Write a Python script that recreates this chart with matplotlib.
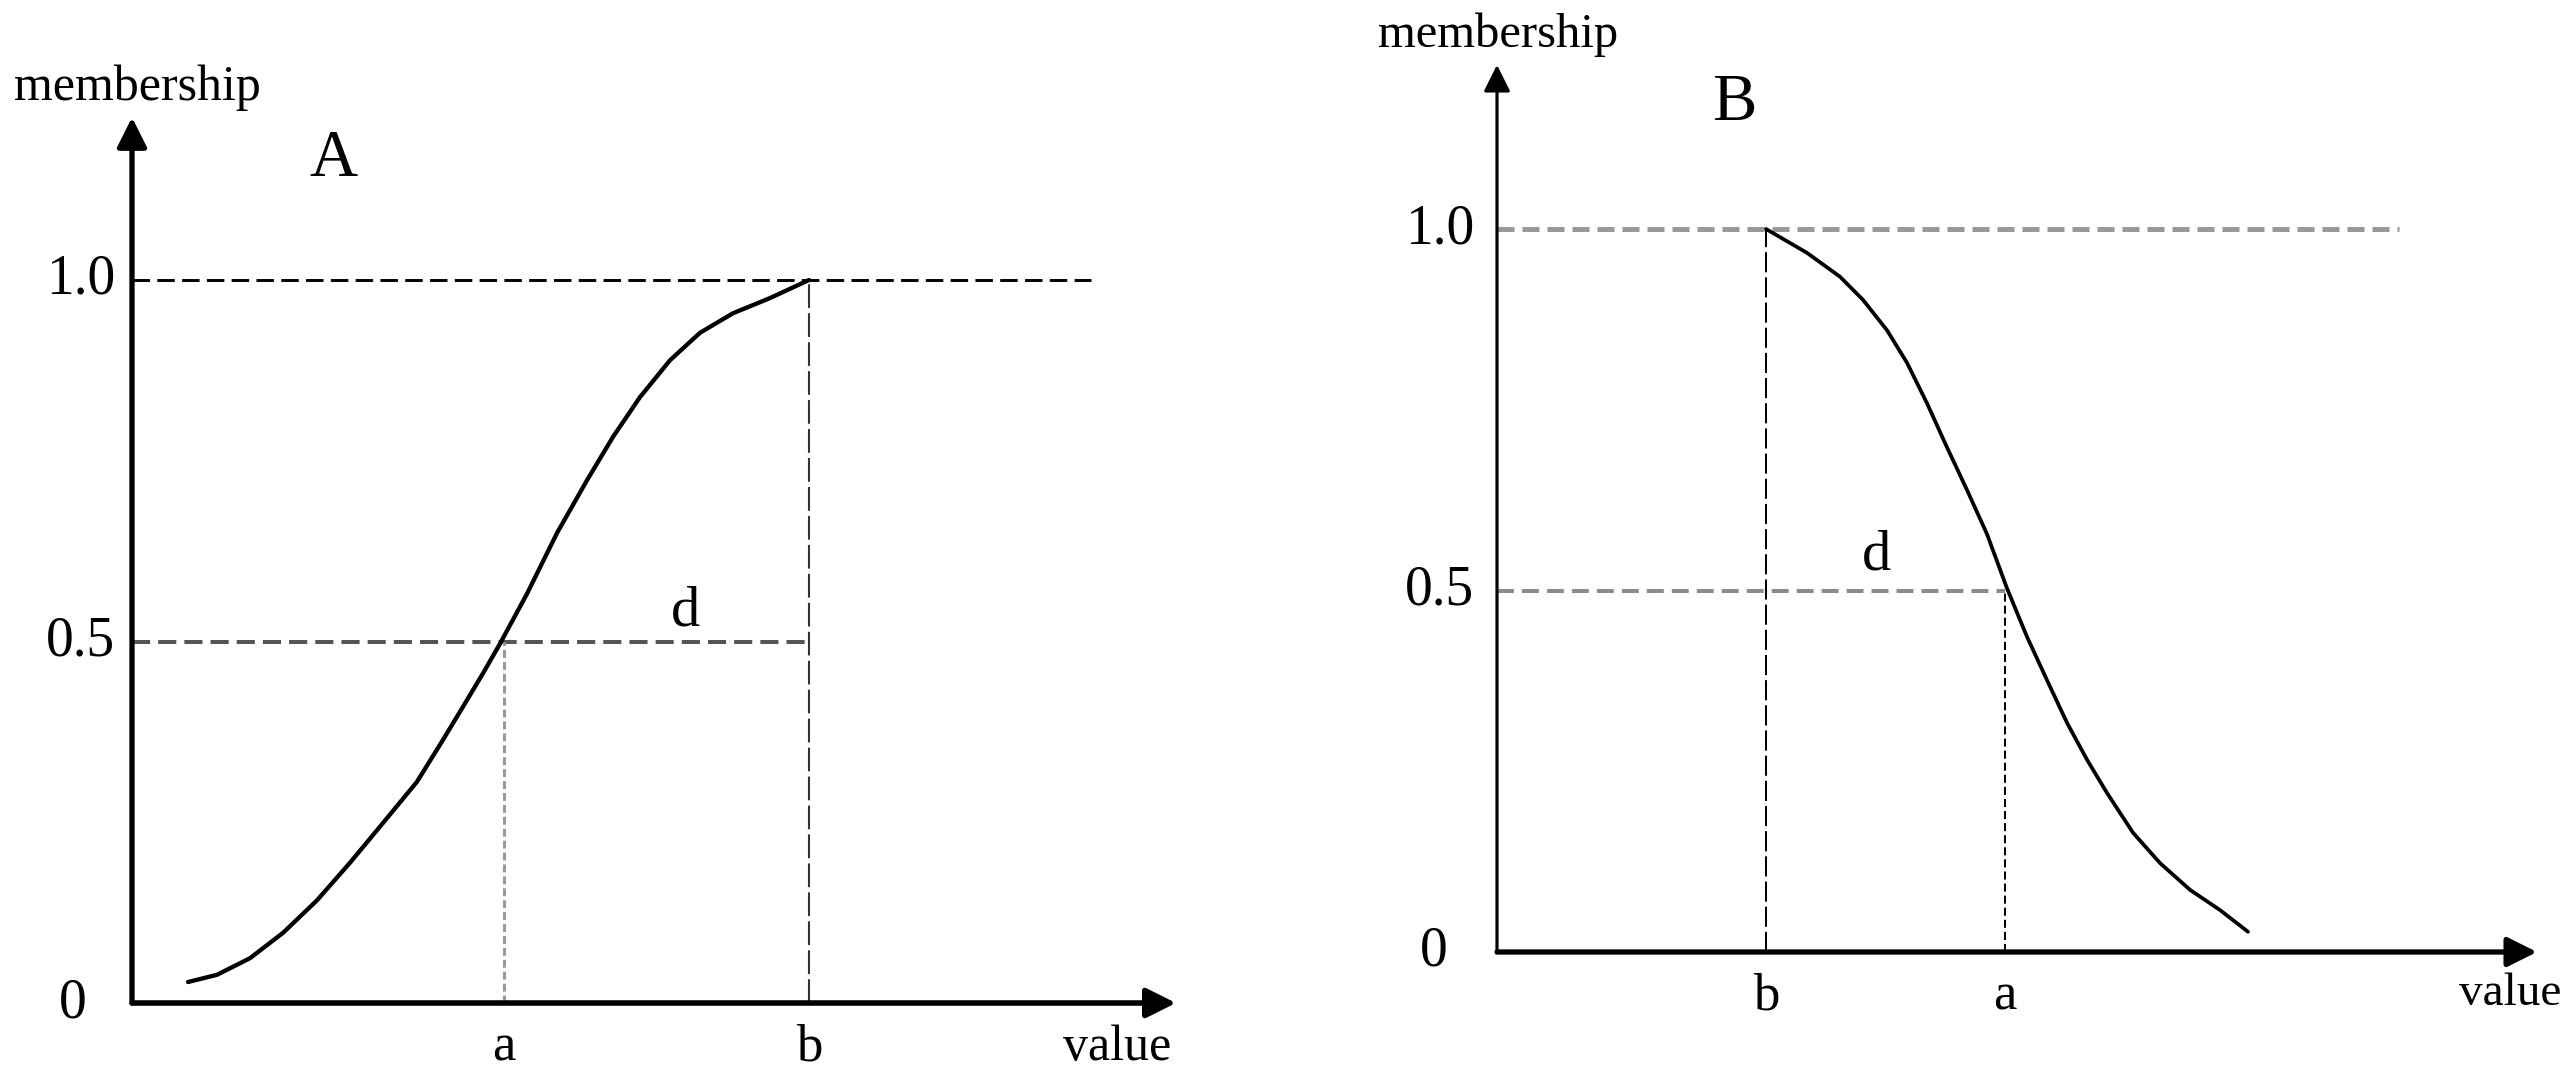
import matplotlib
matplotlib.use("Agg")
import matplotlib.pyplot as plt

plt.rcParams['font.family'] = ['Liberation Serif', 'DejaVu Serif']

# ---- data (x in arbitrary units, y = membership) ----
# panel A: rising curve
curve_a_x = [0.56, 0.85, 1.18, 1.51, 1.85, 2.18, 2.51, 2.85, 3.11, 3.35, 3.51,
             3.68, 3.95, 4.25, 4.55, 4.81, 5.08, 5.38, 5.68, 6.01, 6.38, 6.77]
curve_a_y = [0.029, 0.039, 0.062, 0.097, 0.142, 0.194, 0.249, 0.306, 0.364, 0.419, 0.456,
             0.497, 0.566, 0.650, 0.723, 0.783, 0.838, 0.889, 0.927, 0.954, 0.975, 1.0]
a_pos_A = 3.72
b_pos_A = 6.77

# panel B: falling curve
curve_b_x = [2.69, 3.10, 3.43, 3.66, 3.90, 4.10, 4.30, 4.50, 4.70, 4.90, 5.10,
             5.30, 5.50, 5.70, 5.90, 6.10, 6.36, 6.63, 6.93, 7.23, 7.51]
curve_b_y = [1.0, 0.967, 0.934, 0.902, 0.860, 0.815, 0.759, 0.698, 0.639, 0.578, 0.503,
             0.436, 0.376, 0.317, 0.266, 0.220, 0.165, 0.123, 0.086, 0.058, 0.028]
a_pos_B = 5.08
b_pos_B = 2.69

y_ticks = [0, 0.5, 1.0]
y_tick_labels = ['0', '0.5', '1.0']

W, H = 2572, 1078
fig = plt.figure(figsize=(W / 100, H / 100), dpi=100)


def arrow(ax, tip, lw, scale=20):
    ax.annotate('', xy=tip, xytext=(0, 0),
                arrowprops=dict(arrowstyle='-|>,head_length=0.9,head_width=0.45',
                                lw=lw, color='black', shrinkA=0, shrinkB=0,
                                mutation_scale=scale),
                annotation_clip=False)


# ---------------- panel A ----------------
axA = fig.add_axes([132 / W, (H - 1003) / H, (1200 - 132) / W, (1003 - 90) / H])
axA.set_xlim(0, 10.68)
axA.set_ylim(0, (1003 - 90) / 723)
axA.axis('off')

axA.plot([0, 9.59], [1.0, 1.0], color='black', lw=2.1, dashes=(6.0, 2.5))
axA.plot([0, b_pos_A], [0.5, 0.5], color='#555555', lw=2.9, dashes=(4.5, 2.0))
axA.plot([a_pos_A, a_pos_A], [0, 0.5], color='#999999', lw=2.2, dashes=(2.6, 1.3))
axA.plot([b_pos_A, b_pos_A], [0, 1.0], color='#333333', lw=1.5, dashes=(11.4, 2.5))
axA.plot(curve_a_x, curve_a_y, color='black', lw=3.1, solid_capstyle='round',
         solid_joinstyle='round')

arrow(axA, (0, 1.225), 3.8)
arrow(axA, (10.44, 0), 4.0)

for t, lab in zip(y_ticks, y_tick_labels):
    xt = -0.59 if lab == '0' else -0.17
    axA.text(xt, t, lab, ha='center' if lab == '0' else 'right', va='center', fontsize=40)
axA.text(a_pos_A, -0.062, 'a', ha='center', va='center', fontsize=38)
axA.text(b_pos_A, -0.062, 'b', ha='center', va='center', fontsize=38)
axA.text(9.85, -0.062, 'value', ha='center', va='center', fontsize=36)
axA.text(5.53, 0.542, 'd', ha='center', va='center', fontsize=42)
axA.text(0.05, 1.266, 'membership', ha='center', va='center', fontsize=36)
axA.text(2.01, 1.166, 'A', ha='center', va='center', fontsize=48)

# ---------------- panel B ----------------
axB = fig.add_axes([1497 / W, (H - 952) / H, (2560 - 1497) / W, (952 - 40) / H])
axB.set_xlim(0, 10.63)
axB.set_ylim(0, (952 - 40) / 723)
axB.axis('off')

axB.plot([0, 9.02], [1.0, 1.0], color='#999999', lw=3.6, dashes=(3.4, 1.6))
axB.plot([0, a_pos_B], [0.5, 0.5], color='#8c8c8c', lw=2.9, dashes=(4.2, 2.0))
axB.plot([b_pos_B, b_pos_B], [0, 1.0], color='black', lw=1.45, dashes=(10, 2.5))
axB.plot([a_pos_B, a_pos_B], [0, 0.5], color='black', lw=1.45, dashes=(4, 2))
axB.plot(curve_b_x, curve_b_y, color='black', lw=2.7, solid_capstyle='round',
         solid_joinstyle='round')

arrow(axB, (0, 1.227), 2.3, scale=18)
arrow(axB, (10.40, 0), 3.8)

for t, lab in zip(y_ticks, y_tick_labels):
    xt = -0.63 if lab == '0' else -0.23
    axB.text(xt, t, lab, ha='center' if lab == '0' else 'right', va='center', fontsize=40)
axB.text(b_pos_B, -0.062, 'b', ha='center', va='center', fontsize=38)
axB.text(a_pos_B, -0.062, 'a', ha='center', va='center', fontsize=38)
axB.text(10.13, -0.058, 'value', ha='center', va='center', fontsize=34)
axB.text(3.80, 0.549, 'd', ha='center', va='center', fontsize=42)
axB.text(0.01, 1.268, 'membership', ha='center', va='center', fontsize=35)
axB.text(2.37, 1.174, 'B', ha='center', va='center', fontsize=48)

fig.savefig('out.png', dpi=100, facecolor='white')
